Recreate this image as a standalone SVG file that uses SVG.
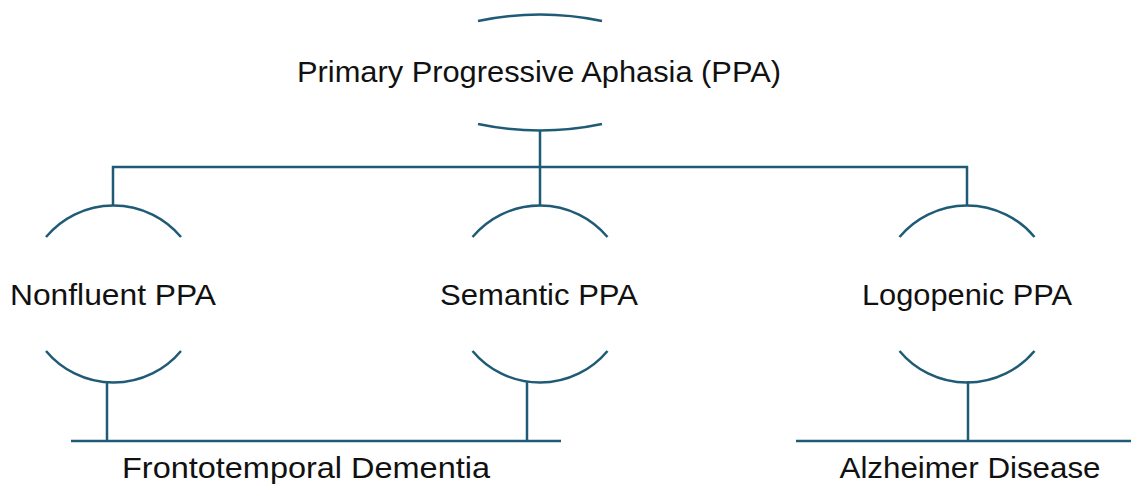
<svg xmlns="http://www.w3.org/2000/svg" width="1131" height="493" viewBox="0 0 1131 493">
  <style>
    .ln { fill: none; stroke: #1f5b76; stroke-width: 2.5; }
    .lbl { font-family: "Liberation Sans", Arial, sans-serif; font-size: 30px; fill: #111; text-anchor: middle; }
  </style>
  <defs>
    <!-- bracket pair around a subtype label, centred on x=0 -->
    <g id="bracket">
      <path class="ln" d="M-67.5,237 A88,88 0 0 1 67.5,237"/>
      <path class="ln" d="M-67.5,351 A88,88 0 0 0 67.5,351"/>
    </g>
  </defs>
  <rect width="1131" height="493" fill="#ffffff"/>

  <!-- connectors -->
  <g id="connectors">
    <path class="ln" d="M540,131 V167"/>
    <path class="ln" d="M113,206 V167 H967 V206"/>
    <path class="ln" d="M540,167 V206"/>
    <path class="ln" d="M107,381 V441"/>
    <path class="ln" d="M527,381 V441"/>
    <path class="ln" d="M71,441 H561"/>
    <path class="ln" d="M968,381 V441"/>
    <path class="ln" d="M796,441 H1131"/>
  </g>

  <g id="ppa">
    <path class="ln" d="M478,21 Q540,8 602,21"/>
    <path class="ln" d="M478,124 Q540,137 602,124"/>
    <text class="lbl" x="539" y="82" textLength="484" lengthAdjust="spacingAndGlyphs">Primary Progressive Aphasia (PPA)</text>
  </g>

  <g id="nonfluent">
    <use href="#bracket" x="113.5"/>
    <text class="lbl" x="113" y="305" textLength="206" lengthAdjust="spacingAndGlyphs">Nonfluent PPA</text>
  </g>

  <g id="semantic">
    <use href="#bracket" x="540"/>
    <text class="lbl" x="539" y="305" textLength="198" lengthAdjust="spacingAndGlyphs">Semantic PPA</text>
  </g>

  <g id="logopenic">
    <use href="#bracket" x="967"/>
    <text class="lbl" x="967" y="305" textLength="210" lengthAdjust="spacingAndGlyphs">Logopenic PPA</text>
  </g>

  <g id="ftd">
    <text class="lbl" x="306" y="478" textLength="368" lengthAdjust="spacingAndGlyphs">Frontotemporal Dementia</text>
  </g>

  <g id="alzheimer">
    <text class="lbl" x="970" y="478" textLength="261" lengthAdjust="spacingAndGlyphs">Alzheimer Disease</text>
  </g>
</svg>
